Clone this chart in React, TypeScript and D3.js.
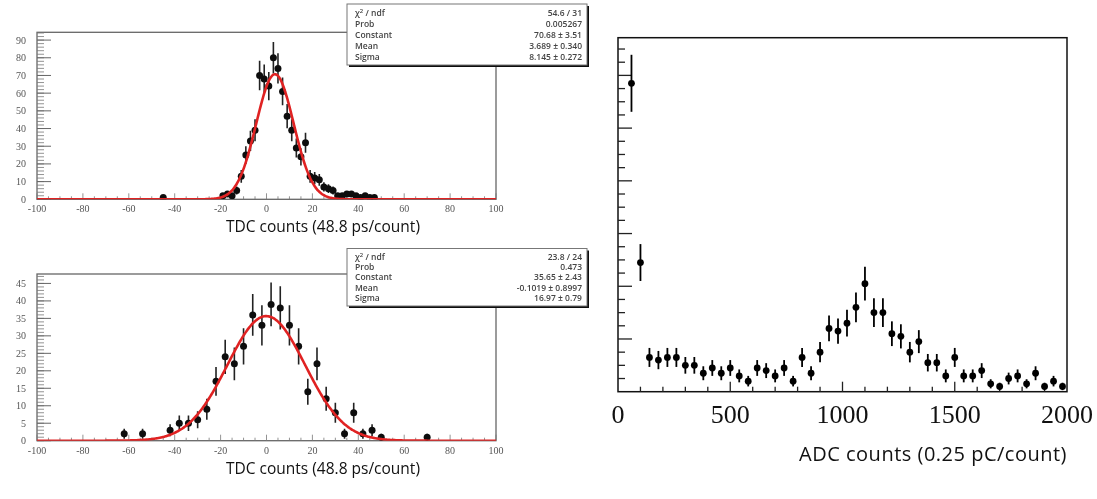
import React from "react";
import * as d3 from "d3";

// ---------- data ----------
const topBinCenters = [-45, -19, -17, -15, -13, -11, -9, -7, -5, -3, -1, 1, 3, 5, 7, 9, 11, 13, 15, 17, 19, 21, 23, 25, 27, 29, 31, 33, 35, 37, 39, 41, 43, 45, 47];
const topCounts = [1, 2, 3, 2, 5, 13, 25, 33, 39, 70, 68, 64, 80, 74, 61, 47, 39, 29, 24, 32, 13, 12, 11, 7, 6, 5, 2, 2, 3, 3, 2, 1, 2, 1, 1];

const bottomBinCenters = [-62, -54, -42, -38, -34, -30, -26, -22, -18, -14, -10, -6, -2, 2, 6, 10, 14, 18, 22, 26, 30, 34, 38, 42, 46, 50, 70];
const bottomCounts = [2, 2, 3, 5, 5, 6, 9, 17, 24, 22, 27, 36, 33, 39, 38, 33, 27, 14, 22, 12, 8, 2, 8, 2, 3, 1, 1];

const adcBinCenters = [60, 100, 140, 180, 220, 260, 300, 340, 380, 420, 460, 500, 540, 580, 620, 660, 700, 740, 780, 820, 860, 900, 940, 980, 1020, 1060, 1100, 1140, 1180, 1220, 1260, 1300, 1340, 1380, 1420, 1460, 1500, 1540, 1580, 1620, 1660, 1700, 1740, 1780, 1820, 1860, 1900, 1940, 1980];
const adcCounts = [117, 49, 13, 12, 13, 13, 10, 10, 7, 9, 7, 9, 6, 4, 9, 8, 6, 9, 4, 13, 7, 15, 24, 23, 26, 32, 41, 30, 30, 22, 21, 15, 19, 11, 11, 6, 13, 6, 6, 8, 3, 2, 5, 6, 3, 7, 2, 4, 2];

// fit parameters [constant, mean, sigma]
const topFitParams = [70.68, 3.689, 8.145];
const bottomFitParams = [35.65, -0.1019, 16.97];

const statsLabels = ["χ² / ndf", "Prob", "Constant", "Mean", "Sigma"];
const topStatsValues = ["54.6 / 31", "0.005267", "70.68 ± 3.51", "3.689 ± 0.340", "8.145 ± 0.272"];
const bottomStatsValues = ["23.8 / 24", "0.473", "35.65 ± 2.43", "-0.1019 ± 0.8997", "16.97 ± 0.79"];

const tdcTickLabels = [-100, -80, -60, -40, -20, 0, 20, 40, 60, 80, 100];
const topYTickLabels = [0, 10, 20, 30, 40, 50, 60, 70, 80, 90];
const bottomYTickLabels = [0, 5, 10, 15, 20, 25, 30, 35, 40, 45];
const adcTickLabels = [0, 500, 1000, 1500, 2000];

const tdcTitle = "TDC counts (48.8 ps/count)";
const adcTitle = "ADC counts (0.25 pC/count)";

// ---------- components ----------
type PanelProps = {
  id: string;
  centers: number[];
  counts: number[];
  fit: number[];
  yMax: number;
  yLabels: number[];
  yMinorStep: number;
  left: number; right: number; top: number; bottom: number;
  statsValues: string[];
  statsBox: { x: number; y: number; w: number; row: number };
  titleY: number;
};

function StatsBox({ box, values }: { box: PanelProps["statsBox"]; values: string[] }) {
  const h = box.row * statsLabels.length + 6;
  return (
    <g>
      <rect x={box.x + 2} y={box.y + 2} width={box.w} height={h} fill="#111" />
      <rect x={box.x} y={box.y} width={box.w} height={h} fill="#fff" stroke="#777" strokeWidth={1} />
      {statsLabels.map((l, i) => (
        <text key={"l" + i} x={box.x + 8} y={box.y + 3 + box.row * (i + 0.5) + 3} fontSize={8.5}
          fontFamily="'Open Sans', sans-serif" fontWeight={600} fill="#444">
          {i === 0 ? (<><tspan>χ</tspan><tspan dy={-3} fontSize={6}>2</tspan><tspan dy={3}> / ndf</tspan></>) : l}
        </text>
      ))}
      {values.map((v, i) => (
        <text key={"v" + i} x={box.x + box.w - 5} y={box.y + 3 + box.row * (i + 0.5) + 3} fontSize={8.5}
          fontFamily="'Open Sans', sans-serif" fontWeight={600} fill="#444" textAnchor="end">{v}</text>
      ))}
    </g>
  );
}

function TdcPanel(p: PanelProps) {
  const x = d3.scaleLinear().domain([-100, 100]).range([p.left, p.right]);
  const y = d3.scaleLinear().domain([0, p.yMax]).range([p.bottom, p.top]);
  const [C, m, s] = p.fit;
  const fitPts = d3.range(-100, 100.001, 0.5).map((v) => [v, C * Math.exp(-0.5 * ((v - m) / s) ** 2)] as [number, number]);
  const line = d3.line<[number, number]>().x((d) => x(d[0])).y((d) => y(d[1])).curve(d3.curveMonotoneX);
  const yMinor = d3.range(0, p.yMax + 1e-9, p.yMinorStep);
  const xMinor = d3.range(-100, 100.001, 5);
  const clipId = "clip-" + p.id;
  return (
    <g>
      <defs>
        <clipPath id={clipId}>
          <rect x={p.left} y={p.top} width={p.right - p.left} height={p.bottom - p.top} />
        </clipPath>
      </defs>
      <g filter="url(#soft)">
        <rect x={p.left} y={p.top} width={p.right - p.left} height={p.bottom - p.top} fill="#fff" stroke="#666" strokeWidth={1.3} />
        {yMinor.map((v, i) => (
          <line key={"ym" + i} x1={p.left} x2={p.left + 7} y1={y(v)} y2={y(v)} stroke="#777" strokeWidth={0.8} />
        ))}
        {p.yLabels.map((v) => (
          <g key={"yl" + v}>
            <line x1={p.left} x2={p.left + 14} y1={y(v)} y2={y(v)} stroke="#666" strokeWidth={1} />
            <text x={p.left - 11} y={y(v) + 3.5} fontSize={10} textAnchor="end" fontFamily="'Liberation Serif', serif" fill="#555">{v}</text>
          </g>
        ))}
        {xMinor.map((v, i) => (
          <line key={"xm" + i} x1={x(v)} x2={x(v)} y1={p.bottom} y2={p.bottom - (v % 20 === 0 ? 6 : 3)} stroke="#777" strokeWidth={0.8} />
        ))}
        {tdcTickLabels.map((v) => (
          <text key={"xl" + v} x={x(v)} y={p.bottom + 13} fontSize={10} textAnchor="middle" fontFamily="'Liberation Serif', serif" fill="#555">{v}</text>
        ))}
        <g clipPath={`url(#${clipId})`}>
          {p.centers.map((c, i) => {
            const n = p.counts[i];
            const e = Math.sqrt(n);
            return (
              <g key={"pt" + i}>
                <line x1={x(c)} x2={x(c)} y1={y(n - e)} y2={y(n + e)} stroke="#222" strokeWidth={1.6} />
                <circle cx={x(c)} cy={y(n)} r={3.5} fill="#111" />
              </g>
            );
          })}
          <path d={line(fitPts) || ""} fill="none" stroke="#e02424" strokeWidth={2.6} />
        </g>
        <StatsBox box={p.statsBox} values={p.statsValues} />
      </g>
      <text x={323} y={p.titleY} fontSize={15.5} textAnchor="middle" fontFamily="'Open Sans', sans-serif" fill="#111">{tdcTitle}</text>
    </g>
  );
}

function AdcPanel() {
  const left = 618, right = 1067, top = 37.7, bottom = 391.7;
  const x = d3.scaleLinear().domain([0, 2000]).range([left, right]);
  const y = d3.scaleLinear().domain([0, 134.3]).range([bottom, top]);
  const yTicks = d3.range(5, 134.3, 5);
  const xTicks = d3.range(100, 2000, 100);
  return (
    <g>
      <rect x={left} y={top} width={right - left} height={bottom - top} fill="#fff" stroke="#111" strokeWidth={1.5} />
      {yTicks.map((v) => (
        <line key={"yt" + v} x1={left} x2={left + (v % 20 === 0 ? 14 : 7)} y1={y(v)} y2={y(v)} stroke="#222" strokeWidth={1.3} />
      ))}
      {xTicks.map((v) => (
        <line key={"xt" + v} x1={x(v)} x2={x(v)} y1={bottom} y2={bottom - (v % 500 === 0 ? 10 : 5)} stroke="#222" strokeWidth={1.3} />
      ))}
      {adcTickLabels.map((v) => (
        <text key={"xl" + v} x={x(v)} y={bottom + 31} fontSize={26} textAnchor="middle" fontFamily="'Liberation Serif', serif" fill="#111">{v}</text>
      ))}
      {adcBinCenters.map((c, i) => {
        const n = adcCounts[i];
        const e = Math.sqrt(n);
        return (
          <g key={"p" + i}>
            <line x1={x(c)} x2={x(c)} y1={y(n - e)} y2={y(n + e)} stroke="#000" strokeWidth={1.8} />
            <circle cx={x(c)} cy={y(n)} r={3.4} fill="#000" />
          </g>
        );
      })}
      <text x={right} y={461} fontSize={20} letterSpacing={0.5} textAnchor="end" fontFamily="'Open Sans', sans-serif" fill="#111">{adcTitle}</text>
    </g>
  );
}

export default function App() {
  return (
    <div style={{ position: "absolute", left: 0, top: 0 }}>
      <svg width={1097} height={499} viewBox="0 0 1097 499" style={{ display: "block", background: "#fff" }}>
        <defs>
          <filter id="soft" x="-5%" y="-5%" width="110%" height="110%">
            <feGaussianBlur stdDeviation={0.55} />
          </filter>
        </defs>
        <rect x={0} y={0} width={1097} height={499} fill="#fff" />
        <TdcPanel id="top" centers={topBinCenters} counts={topCounts} fit={topFitParams} yMax={94.4}
          yLabels={topYTickLabels} yMinorStep={2} left={37} right={496} top={32.3} bottom={199.3}
          statsValues={topStatsValues} statsBox={{ x: 347, y: 4, w: 240, row: 11 }} titleY={232} />
        <TdcPanel id="bot" centers={bottomBinCenters} counts={bottomCounts} fit={bottomFitParams} yMax={47.7}
          yLabels={bottomYTickLabels} yMinorStep={1} left={37} right={496} top={274} bottom={440.7}
          statsValues={bottomStatsValues} statsBox={{ x: 347, y: 248.5, w: 240, row: 10.3 }} titleY={474} />
        <AdcPanel />
      </svg>
    </div>
  );
}
